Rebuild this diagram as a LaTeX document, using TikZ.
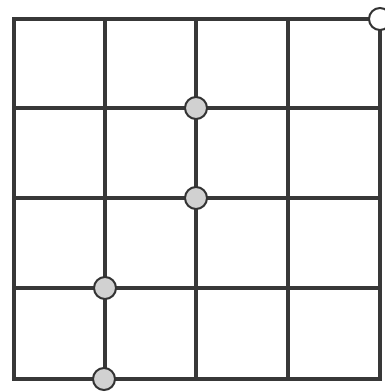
\documentclass[tikz,border=0pt]{standalone}
\begin{document}
\begin{tikzpicture}[x=1pt,y=-1pt,
  gridline/.style={draw=black!78, line width=4pt, line cap=rect},
  dot/.style={circle, draw=black!80, line width=2pt, fill=black!18, minimum size=22pt, inner sep=0pt},
  wdot/.style={dot, fill=white}]
\useasboundingbox (0,0) rectangle (385,392);
\foreach \x in {14,105,196,288,380} \draw[gridline] (\x,19) -- (\x,379);
\foreach \y in {19,108,198,288,379} \draw[gridline] (14,\y) -- (380,\y);
\node[wdot] (c1) at (380,19) {};
\node[dot] (c2) at (196,108) {};
\node[dot] (c3) at (196,198) {};
\node[dot] (c4) at (105,288) {};
\node[dot] (c5) at (104,379) {};
\end{tikzpicture}
\end{document}
